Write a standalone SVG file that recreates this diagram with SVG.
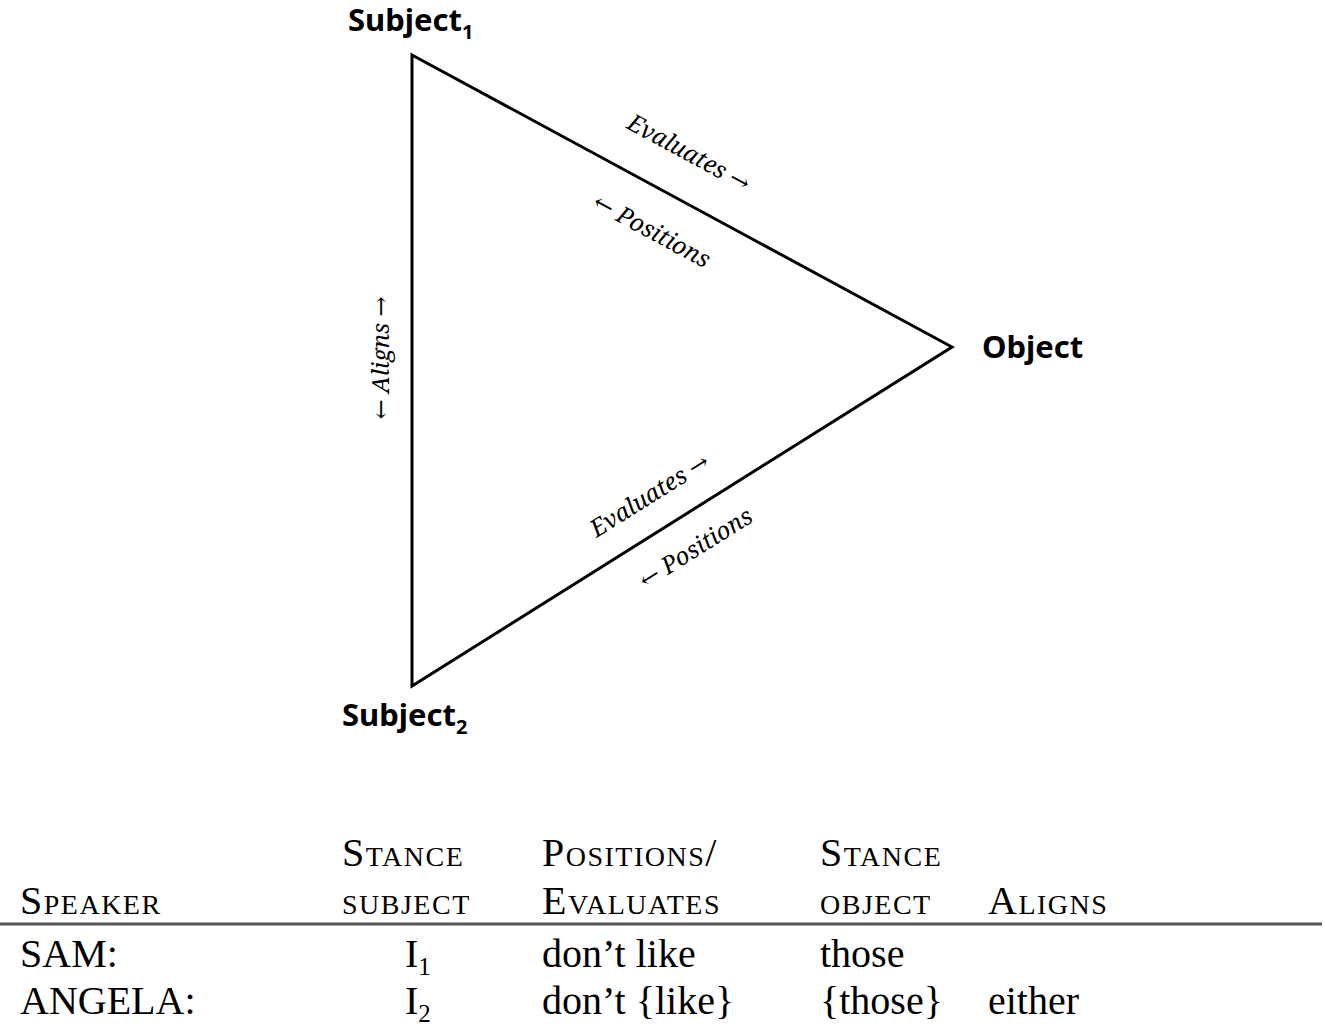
<svg xmlns="http://www.w3.org/2000/svg" width="1325" height="1026" viewBox="0 0 1325 1026">
<style>
.n{font-family:"Noto Sans","DejaVu Sans",sans-serif;font-weight:bold;font-size:31px;fill:#000}
.e{font-family:"Noto Serif","DejaVu Serif","Liberation Serif",serif;font-style:italic;font-size:24px;fill:#000}
.t{font-family:"Liberation Serif",serif;font-size:40px;fill:#000}
.sc{font-variant:small-caps;letter-spacing:1.5px}
</style>
<rect width="1325" height="1026" fill="#fff"/>
<g id="edges">
<polygon points="412,55 952,347 412,686" fill="none" stroke="#000" stroke-width="3"/>
</g>
<g id="subject1"><text class="n" x="348" y="31">Subject<tspan font-size="20" dy="8">1</tspan></text></g>
<g id="object"><text class="n" x="982" y="358">Object</text></g>
<g id="subject2"><text class="n" x="342" y="726">Subject<tspan font-size="20" dy="8">2</tspan></text></g>
<g id="labels">
<text class="e" text-anchor="middle" transform="translate(685,160) rotate(28.4)">Evaluates →</text>
<text class="e" text-anchor="middle" transform="translate(648,238) rotate(28.4)">← Positions</text>
<text class="e" text-anchor="middle" transform="translate(654,502) rotate(-32.1)">Evaluates →</text>
<text class="e" text-anchor="middle" transform="translate(700,555) rotate(-32.1)">← Positions</text>
<text class="e" text-anchor="middle" transform="translate(389,358) rotate(-90)">← Aligns →</text>
</g>
<g id="table">
<text class="t sc" x="342" y="866">Stance</text>
<text class="t sc" x="542" y="866">Positions/</text>
<text class="t sc" x="820" y="866">Stance</text>
<text class="t sc" x="20" y="914">Speaker</text>
<text class="t sc" x="342" y="914">subject</text>
<text class="t sc" x="542" y="914">Evaluates</text>
<text class="t sc" x="820" y="914">object</text>
<text class="t sc" x="988" y="914">Aligns</text>
<line x1="0" y1="924" x2="1322" y2="924" stroke="#555" stroke-width="3"/>
<text class="t" x="20" y="967">SAM:</text>
<text class="t" x="405" y="967">I<tspan font-size="25" dy="8">1</tspan></text>
<text class="t" x="542" y="967">don’t like</text>
<text class="t" x="820" y="967">those</text>
<text class="t" x="20" y="1014">ANGELA:</text>
<text class="t" x="405" y="1014">I<tspan font-size="25" dy="8">2</tspan></text>
<text class="t" x="542" y="1014">don’t {like}</text>
<text class="t" x="820" y="1014">{those}</text>
<text class="t" x="988" y="1014">either</text>
</g>
</svg>
